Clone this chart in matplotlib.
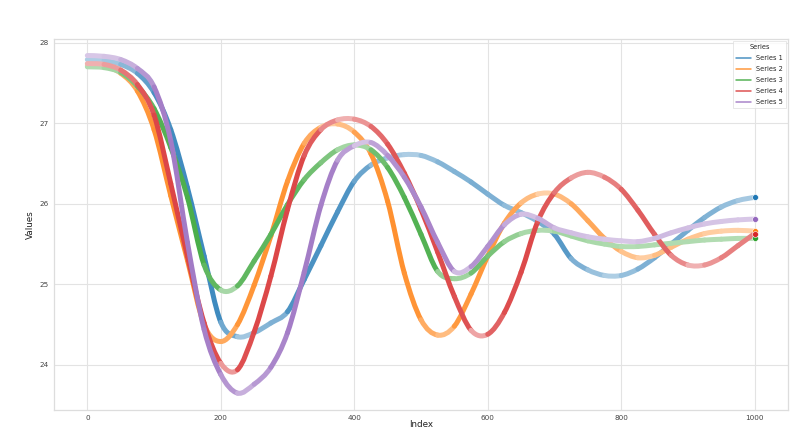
import matplotlib
matplotlib.use("Agg")

import matplotlib.pyplot as plt
import numpy as np
import seaborn as sns
from matplotlib.collections import PathCollection
from matplotlib.lines import Line2D
from matplotlib.path import Path

# Sample positions (every 25th index)
index = list(range(0, 1001, 25))

series_1 = [27.79, 27.78, 27.73, 27.62, 27.38, 26.92, 26.20, 25.35, 24.53, 24.35,
            24.40, 24.52, 24.66, 25.06, 25.48, 25.90, 26.28, 26.48, 26.57, 26.61,
            26.60, 26.52, 26.40, 26.27, 26.12, 25.98, 25.89, 25.78, 25.62, 25.32,
            25.18, 25.11, 25.11, 25.19, 25.33, 25.50, 25.67, 25.83, 25.96, 26.04,
            26.08]
series_2 = [27.72, 27.71, 27.62, 27.40, 26.92, 26.10, 25.30, 24.50, 24.29, 24.50,
            24.99, 25.60, 26.28, 26.75, 26.95, 26.99, 26.89, 26.62, 26.03, 25.14,
            24.56, 24.37, 24.48, 24.88, 25.35, 25.76, 26.01, 26.12, 26.12, 26.00,
            25.79, 25.57, 25.41, 25.33, 25.36, 25.46, 25.56, 25.63, 25.66, 25.67,
            25.66]
series_3 = [27.70, 27.69, 27.63, 27.46, 27.18, 26.70, 26.08, 25.24, 24.93, 24.98,
            25.29, 25.62, 25.99, 26.30, 26.51, 26.67, 26.73, 26.67, 26.45, 26.08,
            25.62, 25.16, 25.07, 25.14, 25.35, 25.53, 25.63, 25.67, 25.66, 25.60,
            25.54, 25.50, 25.47, 25.47, 25.49, 25.51, 25.53, 25.55, 25.56, 25.57,
            25.57]
series_4 = [27.74, 27.73, 27.66, 27.48, 27.10, 26.25, 25.35, 24.52, 24.02, 23.94,
            24.41, 25.10, 25.93, 26.60, 26.92, 27.04, 27.05, 26.96, 26.74, 26.38,
            25.93, 25.40, 24.85, 24.43, 24.38, 24.65, 25.15, 25.78, 26.14, 26.32,
            26.39, 26.33, 26.18, 25.92, 25.62, 25.36, 25.24, 25.24, 25.33, 25.48,
            25.63]
series_5 = [27.84, 27.83, 27.79, 27.68, 27.45, 26.78, 25.52, 24.44, 23.88, 23.65,
            23.76, 23.97, 24.40, 25.15, 25.98, 26.54, 26.72, 26.76, 26.60, 26.33,
            25.96, 25.52, 25.16, 25.22, 25.47, 25.74, 25.87, 25.82, 25.70, 25.64,
            25.59, 25.56, 25.54, 25.53, 25.57, 25.64, 25.70, 25.75, 25.78, 25.80,
            25.81]

series_names = ["Series 1", "Series 2", "Series 3", "Series 4", "Series 5"]


def blend(color, amount):
    """Mixes an RGB colour with white; amount=1 keeps the colour unchanged."""
    rgb = np.array(matplotlib.colors.to_rgb(color))
    return tuple(1 - amount * (1 - rgb))


def smooth_segments(pts):
    """Turns a list of points into Catmull-Rom style bezier pieces, one per gap."""
    padded = np.vstack([pts[:1], pts, pts[-1:]])
    paths = []
    for i in range(len(pts) - 1):
        p0, p1, p2, p3 = padded[i], padded[i + 1], padded[i + 2], padded[i + 3]
        c1 = p1 + (p2 - p0) / 6
        c2 = p2 - (p3 - p1) / 6
        paths.append(Path([p1, c1, c2, p2],
                          [Path.MOVETO, Path.CURVE4, Path.CURVE4, Path.CURVE4]))
    return paths


def draw_band(ax, x, y, color):
    """Draws a thick band whose strength grows with the on-screen steepness."""
    xy = np.column_stack([x, y])
    pts = ax.transData.transform(xy)

    # Steep pieces look solid in the reference, flat ones washed out
    d = np.diff(pts, axis=0)
    steep = np.abs(d[:, 1]) / np.hypot(d[:, 0], d[:, 1])
    colors = [blend(color, 0.36 + 0.52 * s ** 1.5) for s in steep]

    pc = PathCollection(smooth_segments(xy), facecolors="none", edgecolors=colors,
                        linewidths=3.6, capstyle="round", joinstyle="round",
                        transform=ax.transData, zorder=2)
    ax.add_collection(pc)

    # Solid end marker
    ax.plot([x[-1]], [y[-1]], "o", color=color, ms=4.2, mec="white", mew=0.4,
            zorder=3)


def main():
    sns.set_style("whitegrid")
    plt.rcParams["font.family"] = ["DejaVu Sans"]

    fig = plt.figure(figsize=(7.99, 4.32), dpi=100)
    ax = fig.add_axes([0.0676, 0.0509, 0.9186, 0.8588])

    # Fix limits first so the screen transform is final
    ax.set_xlim(-49.95, 1049.95)
    ax.set_ylim(23.44, 28.045)

    palette = sns.color_palette("tab10", 5)
    data = [series_1, series_2, series_3, series_4, series_5]
    for values, color in zip(data, palette):
        draw_band(ax, np.array(index, float), np.array(values), color)

    ax.set_xticks([0, 200, 400, 600, 800, 1000])
    ax.set_yticks([24, 25, 26, 27, 28])
    ax.tick_params(labelsize=5.2, length=0, pad=3.8, colors="#444444")
    ax.grid(True, color="#e3e3e3", linewidth=0.8)
    for spine in ax.spines.values():
        spine.set_color("#dddddd")
        spine.set_linewidth(0.9)

    ax.set_xlabel("Index", fontsize=6.3, color="#222222")
    ax.xaxis.set_label_coords(0.5, -0.028)
    ax.set_ylabel("Values", fontsize=6.3, labelpad=3, color="#222222")

    handles = [Line2D([], [], color=c, lw=1.1, alpha=0.8) for c in palette]
    leg = ax.legend(handles, series_names, title="Series", loc="upper right",
                    fontsize=4.8, title_fontsize=4.8, borderaxespad=0.3,
                    handlelength=2.2, labelspacing=0.75, borderpad=0.45,
                    frameon=True, fancybox=False)
    leg.get_frame().set_edgecolor("#dddddd")
    leg.get_frame().set_linewidth(0.6)

    fig.savefig("out.png", dpi=100)


if __name__ == "__main__":
    main()
